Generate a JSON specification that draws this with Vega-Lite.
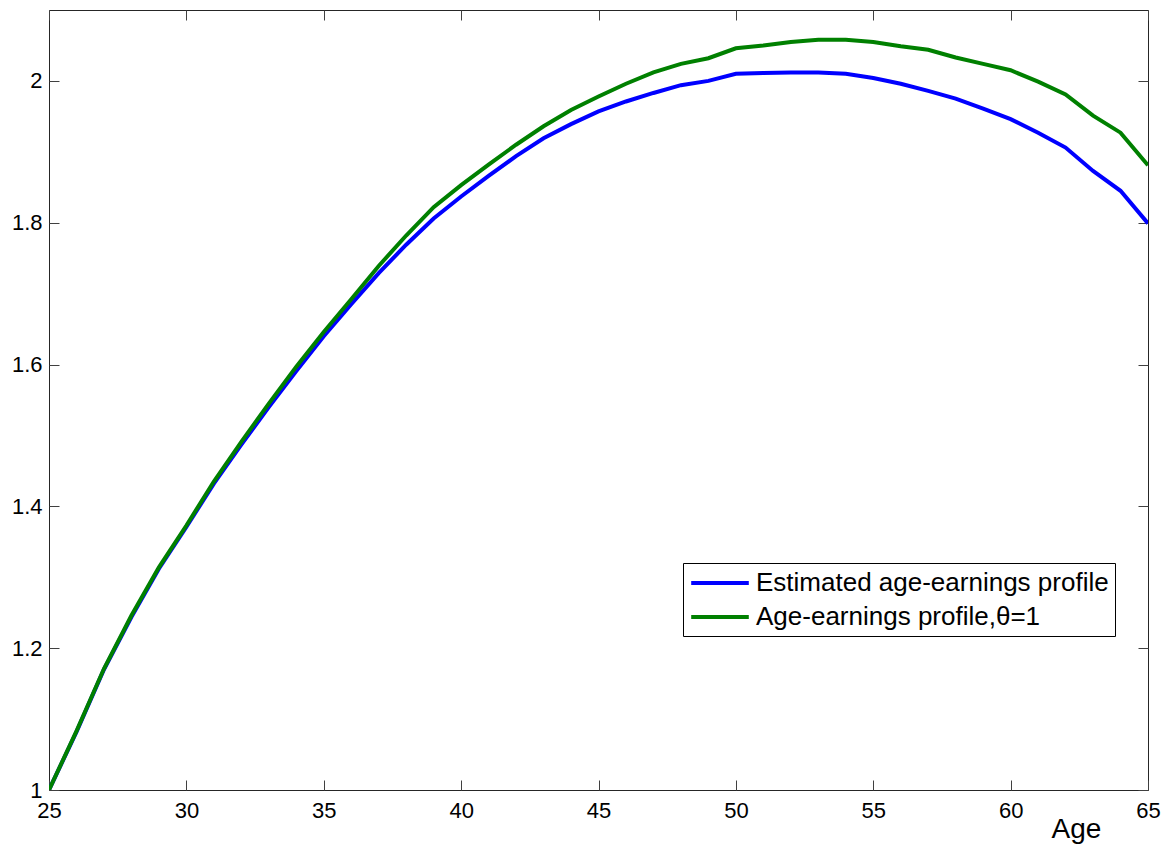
{
  "$schema": "https://vega.github.io/schema/vega-lite/v6.json",
  "autosize": "none",
  "width": 1099,
  "height": 780,
  "padding": {"left": 49, "top": 10, "right": 20, "bottom": 58},
  "background": "white",
  "config": {
    "view": {"stroke": "#262626", "strokeWidth": 1},
    "font": "Liberation Sans",
    "axis": {"grid": false, "domain": false, "tickColor": "#404040", "tickSize": -10, "tickWidth": 1, "labelFont": "Liberation Sans", "labelFontSize": 22, "labelColor": "#000000", "labelFlush": false, "labelOverlap": false, "labelBound": false}
  },
  "data": {"values": [
    {"age": 25, "series": "Estimated age-earnings profile", "value": 1.000},
    {"age": 26, "series": "Estimated age-earnings profile", "value": 1.082},
    {"age": 27, "series": "Estimated age-earnings profile", "value": 1.170},
    {"age": 28, "series": "Estimated age-earnings profile", "value": 1.244},
    {"age": 29, "series": "Estimated age-earnings profile", "value": 1.312},
    {"age": 30, "series": "Estimated age-earnings profile", "value": 1.371},
    {"age": 31, "series": "Estimated age-earnings profile", "value": 1.432},
    {"age": 32, "series": "Estimated age-earnings profile", "value": 1.487},
    {"age": 33, "series": "Estimated age-earnings profile", "value": 1.540},
    {"age": 34, "series": "Estimated age-earnings profile", "value": 1.591},
    {"age": 35, "series": "Estimated age-earnings profile", "value": 1.640},
    {"age": 36, "series": "Estimated age-earnings profile", "value": 1.685},
    {"age": 37, "series": "Estimated age-earnings profile", "value": 1.729},
    {"age": 38, "series": "Estimated age-earnings profile", "value": 1.769},
    {"age": 39, "series": "Estimated age-earnings profile", "value": 1.806},
    {"age": 40, "series": "Estimated age-earnings profile", "value": 1.837},
    {"age": 41, "series": "Estimated age-earnings profile", "value": 1.866},
    {"age": 42, "series": "Estimated age-earnings profile", "value": 1.894},
    {"age": 43, "series": "Estimated age-earnings profile", "value": 1.919},
    {"age": 44, "series": "Estimated age-earnings profile", "value": 1.939},
    {"age": 45, "series": "Estimated age-earnings profile", "value": 1.957},
    {"age": 46, "series": "Estimated age-earnings profile", "value": 1.971},
    {"age": 47, "series": "Estimated age-earnings profile", "value": 1.983},
    {"age": 48, "series": "Estimated age-earnings profile", "value": 1.994},
    {"age": 49, "series": "Estimated age-earnings profile", "value": 2.000},
    {"age": 50, "series": "Estimated age-earnings profile", "value": 2.010},
    {"age": 51, "series": "Estimated age-earnings profile", "value": 2.011},
    {"age": 52, "series": "Estimated age-earnings profile", "value": 2.012},
    {"age": 53, "series": "Estimated age-earnings profile", "value": 2.012},
    {"age": 54, "series": "Estimated age-earnings profile", "value": 2.010},
    {"age": 55, "series": "Estimated age-earnings profile", "value": 2.004},
    {"age": 56, "series": "Estimated age-earnings profile", "value": 1.996},
    {"age": 57, "series": "Estimated age-earnings profile", "value": 1.986},
    {"age": 58, "series": "Estimated age-earnings profile", "value": 1.975},
    {"age": 59, "series": "Estimated age-earnings profile", "value": 1.961},
    {"age": 60, "series": "Estimated age-earnings profile", "value": 1.946},
    {"age": 61, "series": "Estimated age-earnings profile", "value": 1.927},
    {"age": 62, "series": "Estimated age-earnings profile", "value": 1.906},
    {"age": 63, "series": "Estimated age-earnings profile", "value": 1.873},
    {"age": 64, "series": "Estimated age-earnings profile", "value": 1.845},
    {"age": 65, "series": "Estimated age-earnings profile", "value": 1.799},
    {"age": 25, "series": "Age-earnings profile,θ=1", "value": 1.000},
    {"age": 26, "series": "Age-earnings profile,θ=1", "value": 1.083},
    {"age": 27, "series": "Age-earnings profile,θ=1", "value": 1.171},
    {"age": 28, "series": "Age-earnings profile,θ=1", "value": 1.246},
    {"age": 29, "series": "Age-earnings profile,θ=1", "value": 1.314},
    {"age": 30, "series": "Age-earnings profile,θ=1", "value": 1.373},
    {"age": 31, "series": "Age-earnings profile,θ=1", "value": 1.435},
    {"age": 32, "series": "Age-earnings profile,θ=1", "value": 1.491},
    {"age": 33, "series": "Age-earnings profile,θ=1", "value": 1.545},
    {"age": 34, "series": "Age-earnings profile,θ=1", "value": 1.597},
    {"age": 35, "series": "Age-earnings profile,θ=1", "value": 1.646},
    {"age": 36, "series": "Age-earnings profile,θ=1", "value": 1.692},
    {"age": 37, "series": "Age-earnings profile,θ=1", "value": 1.739},
    {"age": 38, "series": "Age-earnings profile,θ=1", "value": 1.782},
    {"age": 39, "series": "Age-earnings profile,θ=1", "value": 1.822},
    {"age": 40, "series": "Age-earnings profile,θ=1", "value": 1.853},
    {"age": 41, "series": "Age-earnings profile,θ=1", "value": 1.882},
    {"age": 42, "series": "Age-earnings profile,θ=1", "value": 1.910},
    {"age": 43, "series": "Age-earnings profile,θ=1", "value": 1.936},
    {"age": 44, "series": "Age-earnings profile,θ=1", "value": 1.959},
    {"age": 45, "series": "Age-earnings profile,θ=1", "value": 1.978},
    {"age": 46, "series": "Age-earnings profile,θ=1", "value": 1.996},
    {"age": 47, "series": "Age-earnings profile,θ=1", "value": 2.012},
    {"age": 48, "series": "Age-earnings profile,θ=1", "value": 2.024},
    {"age": 49, "series": "Age-earnings profile,θ=1", "value": 2.032},
    {"age": 50, "series": "Age-earnings profile,θ=1", "value": 2.046},
    {"age": 51, "series": "Age-earnings profile,θ=1", "value": 2.050},
    {"age": 52, "series": "Age-earnings profile,θ=1", "value": 2.055},
    {"age": 53, "series": "Age-earnings profile,θ=1", "value": 2.058},
    {"age": 54, "series": "Age-earnings profile,θ=1", "value": 2.058},
    {"age": 55, "series": "Age-earnings profile,θ=1", "value": 2.055},
    {"age": 56, "series": "Age-earnings profile,θ=1", "value": 2.049},
    {"age": 57, "series": "Age-earnings profile,θ=1", "value": 2.044},
    {"age": 58, "series": "Age-earnings profile,θ=1", "value": 2.033},
    {"age": 59, "series": "Age-earnings profile,θ=1", "value": 2.024},
    {"age": 60, "series": "Age-earnings profile,θ=1", "value": 2.015},
    {"age": 61, "series": "Age-earnings profile,θ=1", "value": 1.999},
    {"age": 62, "series": "Age-earnings profile,θ=1", "value": 1.981},
    {"age": 63, "series": "Age-earnings profile,θ=1", "value": 1.951},
    {"age": 64, "series": "Age-earnings profile,θ=1", "value": 1.927},
    {"age": 65, "series": "Age-earnings profile,θ=1", "value": 1.881}
  ]},
  "layer": [
    {
      "mark": {"type": "line", "strokeWidth": 4, "clip": true},
      "encoding": {
        "x": {"field": "age", "type": "quantitative",
          "scale": {"domain": [25, 65], "nice": false, "zero": false},
          "axis": {"orient": "bottom", "values": [25, 30, 35, 40, 45, 50, 55, 60, 65], "labelPadding": 20, "title": "Age", "titleFont": "Liberation Sans", "titleFontSize": 28, "titleFontWeight": "normal", "titleColor": "#000000", "titleX": 1027, "titleY": 47, "titleAlign": "center", "titleBaseline": "alphabetic", "titleAnchor": null}},
        "y": {"field": "value", "type": "quantitative",
          "scale": {"domain": [1, 2.1], "nice": false, "zero": false},
          "axis": {"orient": "left", "values": [1, 1.2, 1.4, 1.6, 1.8, 2], "format": "~g", "labelPadding": 17, "title": null}},
        "color": {"field": "series", "type": "nominal",
          "scale": {"domain": ["Estimated age-earnings profile", "Age-earnings profile,θ=1"], "range": ["#0000ff", "#008000"]},
          "legend": {"title": null, "orient": "none", "legendX": 634, "legendY": 553, "padding": 6, "strokeColor": "#000000", "fillColor": "#ffffff", "symbolType": "M-2.4,0H2.4", "symbolSize": 576, "symbolStrokeWidth": 4, "symbolOffset": 17, "labelFont": "Liberation Sans", "labelFontSize": 26, "labelColor": "#000000", "labelLimit": 600, "rowPadding": 7, "labelOffset": 22}},
        "detail": {"field": "series"}
      }
    },
    {
      "mark": {"type": "point", "opacity": 0},
      "encoding": {
        "x": {"field": "age", "type": "quantitative", "axis": {"orient": "top", "values": [25, 30, 35, 40, 45, 50, 55, 60, 65], "labels": false, "title": null}},
        "y": {"field": "value", "type": "quantitative", "axis": {"orient": "right", "values": [1, 1.2, 1.4, 1.6, 1.8, 2], "labels": false, "title": null}}
      }
    }
  ],
  "resolve": {"axis": {"x": "independent", "y": "independent"}}
}
